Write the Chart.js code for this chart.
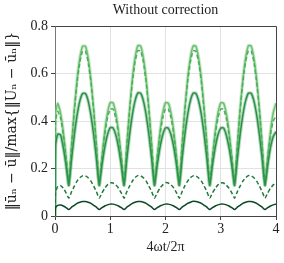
<!DOCTYPE html>
<html>
<head>
<meta charset="utf-8">
<script src="https://cdn.jsdelivr.net/npm/chart.js@4/dist/chart.umd.min.js"></script>
<style>
  html, body { margin: 0; padding: 0; background: #fff; }
  canvas { display: block; }
</style>
</head>
<body>
<canvas id="chart" width="284" height="263"></canvas>
<script>
// ── Data ──
const times = [
  0, 0.01, 0.05, 0.1, 0.15, 0.2, 0.25, 0.3, 0.35, 0.4, 0.45, 0.5, 0.55, 0.6, 0.65, 0.7, 0.75, 0.8, 0.85, 0.9, 0.95,
  1, 1.05, 1.1, 1.15, 1.2, 1.25, 1.3, 1.35, 1.4, 1.45, 1.5, 1.55, 1.6, 1.65, 1.7, 1.75, 1.8, 1.85, 1.9, 1.95,
  2, 2.05, 2.1, 2.15, 2.2, 2.25, 2.3, 2.35, 2.4, 2.45, 2.5, 2.55, 2.6, 2.65, 2.7, 2.75, 2.8, 2.85, 2.9, 2.95,
  3, 3.05, 3.1, 3.15, 3.2, 3.25, 3.3, 3.35, 3.4, 3.45, 3.5, 3.55, 3.6, 3.65, 3.7, 3.75, 3.8, 3.85, 3.9, 3.95,
  4
];

const lightSolid = [
  0, 0.43,
  0.475, 0.433, 0.355, 0.25, 0.13, 0.30, 0.45, 0.575, 0.665, 0.715, 0.715, 0.665, 0.575, 0.45, 0.30, 0.13, 0.25, 0.355, 0.433,
  0.478, 0.476, 0.433, 0.355, 0.25, 0.13, 0.30, 0.45, 0.577, 0.667, 0.718, 0.716, 0.665, 0.575, 0.45, 0.30, 0.13, 0.25, 0.355, 0.433,
  0.477, 0.475, 0.433, 0.356, 0.25, 0.13, 0.30, 0.451, 0.576, 0.666, 0.716, 0.715, 0.664, 0.575, 0.45, 0.30, 0.13, 0.25, 0.355, 0.433,
  0.476, 0.475, 0.432, 0.355, 0.25, 0.13, 0.30, 0.45, 0.575, 0.665, 0.717, 0.716, 0.665, 0.575, 0.45, 0.30, 0.13, 0.25, 0.355, 0.435,
  0.475
];

const lightDashed = [
  0, 0.40,
  0.44, 0.413, 0.343, 0.248, 0.14, 0.298, 0.443, 0.563, 0.649, 0.694, 0.694, 0.649, 0.563, 0.443, 0.298, 0.14, 0.248, 0.343, 0.413,
  0.45, 0.45, 0.413, 0.343, 0.248, 0.14, 0.298, 0.443, 0.563, 0.65, 0.696, 0.695, 0.649, 0.563, 0.443, 0.298, 0.14, 0.248, 0.343, 0.413,
  0.451, 0.45, 0.413, 0.344, 0.248, 0.14, 0.298, 0.443, 0.564, 0.649, 0.695, 0.694, 0.648, 0.563, 0.443, 0.298, 0.14, 0.248, 0.343, 0.413,
  0.45, 0.45, 0.412, 0.343, 0.248, 0.14, 0.298, 0.443, 0.563, 0.649, 0.695, 0.695, 0.649, 0.563, 0.443, 0.298, 0.14, 0.248, 0.343, 0.40,
  0.42
];

const mediumSolid = [
  0, 0.30,
  0.345, 0.342, 0.288, 0.214, 0.13, 0.24, 0.341, 0.425, 0.485, 0.516, 0.516, 0.485, 0.425, 0.341, 0.24, 0.13, 0.214, 0.288, 0.342,
  0.372, 0.371, 0.342, 0.288, 0.214, 0.13, 0.24, 0.341, 0.426, 0.486, 0.518, 0.517, 0.485, 0.425, 0.341, 0.24, 0.13, 0.214, 0.288, 0.342,
  0.371, 0.37, 0.342, 0.289, 0.214, 0.13, 0.24, 0.342, 0.425, 0.485, 0.517, 0.516, 0.484, 0.425, 0.341, 0.24, 0.13, 0.214, 0.288, 0.342,
  0.37, 0.371, 0.341, 0.288, 0.214, 0.13, 0.24, 0.341, 0.425, 0.485, 0.517, 0.517, 0.485, 0.425, 0.341, 0.24, 0.13, 0.214, 0.288, 0.335,
  0.355
];

const mediumDashed = [
  0, 0.10,
  0.125, 0.128, 0.117, 0.097, 0.075, 0.102, 0.126, 0.147, 0.161, 0.169, 0.169, 0.161, 0.147, 0.126, 0.102, 0.075, 0.097, 0.117, 0.131,
  0.139, 0.139, 0.131, 0.117, 0.097, 0.075, 0.102, 0.126, 0.147, 0.162, 0.17, 0.169, 0.161, 0.147, 0.126, 0.102, 0.075, 0.097, 0.117, 0.131,
  0.14, 0.139, 0.131, 0.118, 0.097, 0.075, 0.102, 0.127, 0.147, 0.161, 0.169, 0.169, 0.16, 0.147, 0.126, 0.102, 0.075, 0.097, 0.117, 0.131,
  0.139, 0.139, 0.13, 0.117, 0.097, 0.075, 0.102, 0.126, 0.147, 0.161, 0.17, 0.169, 0.161, 0.147, 0.126, 0.102, 0.075, 0.097, 0.117, 0.131,
  0.139
];

const darkSolid = [
  0, 0.035,
  0.045, 0.046, 0.042, 0.035, 0.027, 0.037, 0.045, 0.053, 0.058, 0.061, 0.061, 0.058, 0.053, 0.045, 0.037, 0.027, 0.035, 0.042, 0.047,
  0.05, 0.05, 0.047, 0.042, 0.035, 0.027, 0.037, 0.045, 0.053, 0.058, 0.061, 0.061, 0.058, 0.053, 0.045, 0.037, 0.027, 0.035, 0.042, 0.047,
  0.05, 0.05, 0.047, 0.042, 0.035, 0.027, 0.037, 0.045, 0.053, 0.058, 0.062, 0.061, 0.058, 0.053, 0.045, 0.037, 0.027, 0.035, 0.042, 0.047,
  0.05, 0.05, 0.047, 0.042, 0.035, 0.027, 0.037, 0.045, 0.053, 0.058, 0.061, 0.061, 0.058, 0.053, 0.045, 0.037, 0.027, 0.035, 0.042, 0.047,
  0.05
];

const xTicks = [0, 1, 2, 3, 4];
const yTicks = [0, 0.2, 0.4, 0.6, 0.8];

// ── Helpers ──
function points(ys) {
  return times.map((t, i) => ({ x: t, y: ys[i] }));
}

function line(ys, color, width, dash) {
  return {
    data: points(ys),
    borderColor: color,
    borderWidth: width,
    borderDash: dash || [],
    pointRadius: 0,
    tension: 0.15,
    fill: false,
  };
}

const FONT = "'Liberation Serif', 'DejaVu Serif', serif";

// top and right sides of the box
const frame = {
  id: "frame",
  beforeDatasetsDraw(chart) {
    const { ctx, chartArea: a } = chart;
    ctx.save();
    ctx.strokeStyle = "#444";
    ctx.lineWidth = 1;
    ctx.beginPath();
    ctx.moveTo(Math.round(a.left) + 0.5, Math.round(a.top) + 0.5);
    ctx.lineTo(Math.round(a.right) + 0.5, Math.round(a.top) + 0.5);
    ctx.lineTo(Math.round(a.right) + 0.5, Math.round(a.bottom) + 0.5);
    ctx.stroke();
    ctx.restore();
  },
};

new Chart(document.getElementById("chart"), {
  type: "line",
  data: {
    datasets: [
      line(darkSolid,    "#0b4a24", 1.5),
      line(mediumDashed, "#1c7a3a", 1.5, [4, 2.5]),
      line(mediumSolid,  "#2a9148", 1.5),
      line(lightDashed,  "#4aae5a", 1.5, [4, 2.5]),
      line(lightSolid,   "#6cc071", 1.5),
      // soft halo under the noisy curves
      line(mediumSolid,  "rgba(42,145,72,0.35)", 3.5),
      line(lightSolid,   "rgba(108,192,113,0.35)", 3.5),
    ],
  },
  options: {
    responsive: false,
    animation: false,
    layout: { padding: { left: 0, right: 8, top: 0, bottom: 0 } },
    plugins: {
      legend: { display: false },
      tooltip: { enabled: false },
    },
    scales: {
      x: {
        type: "linear",
        min: 0,
        max: 4,
        afterBuildTicks: (s) => { s.ticks = xTicks.map(v => ({ value: v })); },
        afterFit: (s) => { s.height = 47; },
        ticks: { color: "#222", font: { family: FONT, size: 14 }, padding: 1 },
        grid: { color: "#e2e2e2", tickColor: "#444", tickLength: 4 },
        border: { color: "#444", width: 1 },
        title: {
          display: true,
          text: "4ωt/2π",
          color: "#222",
          font: { family: FONT, size: 14 },
          padding: { top: 0, bottom: 7 },
        },
      },
      // top axis only carries the title, centred over the plot
      top: {
        type: "linear",
        position: "top",
        min: 0,
        max: 4,
        afterFit: (s) => { s.height = 26; },
        ticks: { display: false },
        grid: { display: false },
        border: { display: false },
        title: {
          display: true,
          text: "Without correction",
          color: "#222",
          font: { family: FONT, size: 14 },
          padding: { top: 2, bottom: 0 },
        },
      },
      y: {
        min: 0,
        max: 0.8,
        afterBuildTicks: (s) => { s.ticks = yTicks.map(v => ({ value: v })); },
        afterFit: (s) => { s.width = 55; },
        ticks: { color: "#222", font: { family: FONT, size: 14 }, padding: 3 },
        grid: { color: "#e2e2e2", tickColor: "#444", tickLength: 4 },
        border: { color: "#777", width: 1 },
        title: {
          display: true,
          text: "‖ūₙ − ū‖/max{‖Uₙ − ūₙ‖}",
          color: "#222",
          font: { family: "'DejaVu Serif', serif", size: 14 },
          padding: { top: 4, bottom: 0 },
        },
      },
    },
  },
  plugins: [frame],
});
</script>
</body>
</html>
